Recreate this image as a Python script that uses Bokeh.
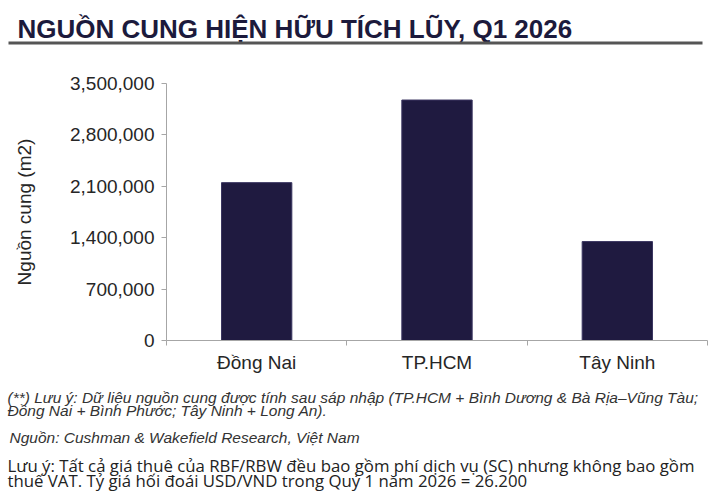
from bokeh.plotting import figure
from bokeh.layouts import column
from bokeh.models import (FactorRange, Range1d, LinearAxis, CategoricalAxis,
                          FixedTicker, NumeralTickFormatter, Label, BoxAnnotation)
from bokeh.embed import file_html
from bokeh.resources import INLINE

TITLE = "NGUỒN CUNG HIỆN HỮU TÍCH LŨY, Q1 2026"
Y_LABEL = "Nguồn cung (m2)"

regions = ["Đồng Nai", "TP.HCM", "Tây Ninh"]
supply = [2150000, 3275000, 1347000]
y_ticks = [0, 700000, 1400000, 2100000, 2800000, 3500000]

notes = [
    "(**) Lưu ý: Dữ liệu nguồn cung được tính sau sáp nhập (TP.HCM + Bình Dương & Bà Rịa–Vũng Tàu;",
    "Đồng Nai + Bình Phước; Tây Ninh + Long An).",
]
source_note = "Nguồn: Cushman & Wakefield Research, Việt Nam"
rent_note = [
    "Lưu ý: Tất cả giá thuê của RBF/RBW đều bao gồm phí dịch vụ (SC) nhưng không bao gồm",
    "thuế VAT. Tỷ giá hối đoái USD/VND trong Quý 1 năm 2026 = 26.200",
]

W = 718
HEAD_H, MAIN_H, FOOT_H = 60, 318, 125
FL, FT, FR, FB = 166, 83, 707, 340   # plot frame edges on the page
BAR = "#1f1a40"
AXIS = "#a6a6a6"
TXT = "#262626"
FONT = "Liberation Sans"


def no_align(f):
    # keep each figure's frame where its own borders put it
    if "frame_align" in f.properties():
        f.frame_align = False


def blank(h):
    # a figure whose frame is the whole canvas, used for free text
    f = figure(width=W, height=h, x_range=Range1d(0, W), y_range=Range1d(0, h),
               x_axis_location=None, y_axis_location=None, min_border=0,
               output_backend="svg", toolbar_location=None, tools="")
    f.outline_line_color = None
    f.grid.grid_line_color = None
    no_align(f)
    return f


# header: title and rule
head = blank(HEAD_H)
head.add_layout(Label(x=17, y=HEAD_H - 28, x_units="screen", y_units="screen",
                      text=TITLE, text_font=FONT,
                      text_font_style="bold", text_font_size="26px",
                      text_color="#1c1a3c", text_baseline="alphabetic"))
head.add_layout(BoxAnnotation(left=8, right=702, top=HEAD_H - 41, bottom=HEAD_H - 44,
                              left_units="screen", right_units="screen",
                              top_units="screen", bottom_units="screen",
                              fill_color="#555555", fill_alpha=1, line_color=None))

# main chart
top0 = HEAD_H
p = figure(width=W, height=MAIN_H, x_range=FactorRange(*regions, range_padding=0),
           y_range=Range1d(0, 3500000), x_axis_location=None,
           output_backend="svg", toolbar_location=None, tools="",
           min_border_left=FL, min_border_right=W - FR, min_border_top=FT - top0,
           min_border_bottom=top0 + MAIN_H - FB)
p.outline_line_color = None
p.grid.grid_line_color = None
no_align(p)

p.vbar(x=regions, top=supply, width=0.39, fill_color=BAR, line_color="#3a3560")

ya = p.yaxis[0]
ya.ticker = FixedTicker(ticks=y_ticks)
ya.formatter = NumeralTickFormatter(format="0,0")
ya.axis_line_color = AXIS
ya.major_tick_line_color = AXIS
ya.major_tick_in = 0
ya.major_tick_out = 5
ya.minor_tick_line_color = None
ya.major_label_text_font = FONT
ya.major_label_text_font_size = "19px"
ya.major_label_text_color = TXT
ya.major_label_standoff = 7
ya.axis_label = Y_LABEL
ya.axis_label_text_font = FONT
ya.axis_label_text_font_size = "19px"
ya.axis_label_text_font_style = "normal"
ya.axis_label_text_color = TXT
ya.axis_label_standoff = 32

# x axis: tick marks at category edges, labels at centres
edges = list(range(len(regions) + 1))
edge_axis = LinearAxis(ticker=FixedTicker(ticks=edges),
                       major_label_overrides={e: "" for e in edges},
                       axis_line_color=AXIS, major_tick_line_color=AXIS,
                       major_tick_in=0, major_tick_out=5,
                       minor_tick_line_color=None,
                       major_label_standoff=0)
p.add_layout(edge_axis, "below")
cat_axis = CategoricalAxis(axis_line_color=None, major_tick_line_color=None,
                           major_label_text_font=FONT,
                           major_label_text_font_size="19px",
                           major_label_text_color=TXT,
                           major_label_standoff=0)
p.add_layout(cat_axis, "below")

# footer: notes and source
foot = blank(FOOT_H)
page_h = HEAD_H + MAIN_H + FOOT_H


def fy(py):
    return page_h - py


for t, yy in zip(notes, [397, 410]):
    foot.add_layout(Label(x=7, y=fy(yy), x_units="screen", y_units="screen", text=t,
                          text_font=FONT, text_font_style="italic",
                          text_font_size="15.5px", text_color="#333333",
                          text_baseline="alphabetic"))
foot.add_layout(Label(x=9, y=fy(437), x_units="screen", y_units="screen",
                      text=source_note, text_font=FONT, text_font_style="italic",
                      text_font_size="15.5px", text_color="#333333",
                      text_baseline="alphabetic"))
for t, yy in zip(rent_note, [465, 480]):
    foot.add_layout(Label(x=7, y=fy(yy), x_units="screen", y_units="screen", text=t,
                          text_font="Open Sans", text_font_size="16.8px",
                          text_color="#222222", text_baseline="alphabetic"))

layout = column(head, p, foot, spacing=0)
open("out.html", "w").write(file_html(layout, INLINE))
